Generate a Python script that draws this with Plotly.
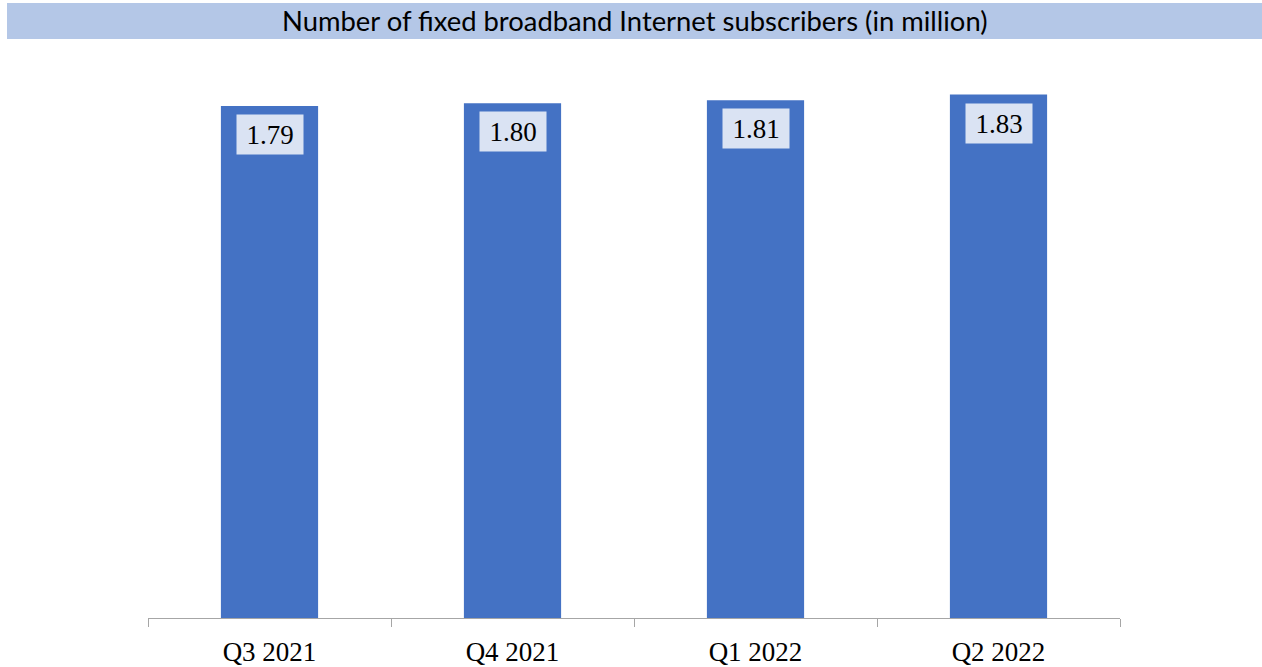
import plotly.graph_objects as go

quarters = ["Q3 2021", "Q4 2021", "Q1 2022", "Q2 2022"]
subscribers = [1.79, 1.80, 1.81, 1.83]
value_labels = ["1.79", "1.80", "1.81", "1.83"]
title_text = "Number of fixed broadband Internet subscribers (in million)"

BAR = "#4472C4"
LABEL_BG = "#DAE3F3"
TITLE_BG = "#B4C7E7"
AXIS = "#A6A6A6"
SERIF = "Liberation Serif, Times New Roman, serif"

fig = go.Figure()
fig.add_trace(go.Bar(x=quarters, y=subscribers, marker_color=BAR,
                     marker_line_width=0, hoverinfo="x+y"))

for q, v, t in zip(quarters, subscribers, value_labels):
    fig.add_annotation(x=q, y=v, xref="x", yref="y", text=t, showarrow=False,
                       yanchor="top", yshift=-8, bgcolor=LABEL_BG, borderpad=0,
                       width=66, height=39,
                       font=dict(family=SERIF, size=27, color="black"))

L, R, T, B = 148, 142, 46, 49
W, H = 1262, 667
pw, ph = W - L - R, H - T - B

def px_x(x):
    return (x - L) / pw

def px_y(y):
    return (H - B - y) / ph

fig.add_shape(type="rect", xref="paper", yref="paper",
              x0=px_x(7), x1=px_x(1262), y0=px_y(39), y1=px_y(3),
              fillcolor=TITLE_BG, line_width=0, layer="below")
fig.add_annotation(xref="paper", yref="paper", x=px_x(635), y=px_y(21),
                   text=title_text, showarrow=False, xanchor="center", yanchor="middle",
                   font=dict(family="Lato, Open Sans, sans-serif", size=27.4, color="black"))

fig.update_layout(
    width=W, height=H,
    margin=dict(l=L, r=R, t=T, b=B, pad=0, autoexpand=False),
    paper_bgcolor="white", plot_bgcolor="white",
    bargap=0.6, showlegend=False,
    xaxis=dict(showline=True, linecolor=AXIS, linewidth=1, ticks="outside",
               tickson="boundaries", ticklen=8, tickcolor=AXIS, tickwidth=1,
               ticklabelstandoff=10, automargin=False,
               showgrid=False, tickfont=dict(family=SERIF, size=27, color="black")),
    yaxis=dict(range=[0, 2], visible=False, showgrid=False, zeroline=False,
               automargin=False),
)

fig.write_html("out.html", config={"displayModeBar": False},
               post_script="document.body.style.margin='0px';")
